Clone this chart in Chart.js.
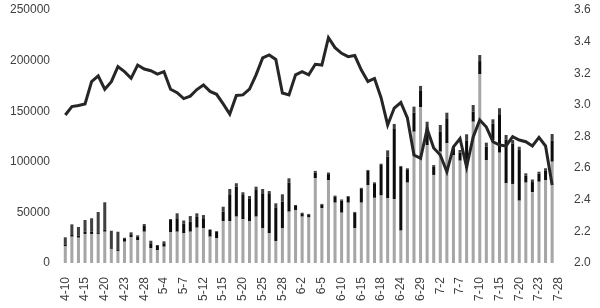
<!DOCTYPE html>
<html>
<head>
<meta charset="utf-8">
<script src="https://cdn.jsdelivr.net/npm/chart.js@4/dist/chart.umd.min.js"></script>
<style>
html,body{margin:0;padding:0;background:#fff;}
#c{display:block;}
</style>
</head>
<body>
<canvas id="c" width="600" height="308"></canvas>
<script>
const categories = ["4-10","4-13","4-14","4-15","4-16","4-17","4-20","4-21","4-22","4-23","4-24","4-27","4-28","4-29","4-30","5-4","5-5","5-6","5-7","5-8","5-11","5-12","5-13","5-14","5-15","5-18","5-19","5-20","5-21","5-22","5-25","5-26","5-27","5-28","5-29","6-1","6-2","6-3","6-4","6-5","6-8","6-9","6-10","6-11","6-12","6-15","6-16","6-17","6-18","6-19","6-22","6-24","6-25","6-26","6-29","6-30","7-1","7-2","7-3","7-6","7-7","7-8","7-9","7-10","7-13","7-14","7-15","7-16","7-17","7-20","7-21","7-22","7-23","7-24","7-27","7-28"];

const seriesGray = [16800,26000,25000,28700,28700,28700,30900,13500,11900,21000,25400,22700,30900,14500,12800,16100,30300,30900,29300,30900,34900,34200,26000,24400,41500,41500,45800,43200,41500,45800,34200,29300,21700,34200,50700,52400,45800,45000,84000,54300,82000,59600,49700,59600,34300,59600,77100,64400,66700,63900,63200,32000,79400,129700,154000,116600,87000,110000,118300,106700,101100,93600,139600,186500,101800,121500,109000,78800,78100,61600,79400,70000,80300,82000,100100,null];

const seriesBlack = [1600,2300,2000,2200,2200,1600,2300,1000,1600,3400,3000,3300,5700,5000,4000,3400,12200,13300,9400,9900,10600,10000,6600,6500,9200,25700,29600,24000,22400,26300,34700,39600,33300,26400,28700,3900,3300,3000,5200,3300,5800,6200,11800,5900,15400,13700,14200,14400,30100,41100,69900,63200,13200,19000,16000,18000,8000,20000,24000,6000,8000,27000,10000,13000,13000,16000,38000,43000,40000,50000,7000,10000,8000,9000,21000,null];

const seriesDark = [7000,9900,8600,11600,13300,20100,26800,17400,17400,500,1900,1400,1900,2500,1000,1900,1000,4900,3300,5600,3600,3200,600,700,4900,5900,3400,2700,2300,3300,4200,2200,4000,7300,4300,1000,600,500,1800,800,1600,800,1300,700,800,1000,700,900,1300,6300,4300,700,1000,5800,5000,5000,1800,6400,6200,2200,2600,6600,6500,6000,4100,4500,5900,4700,3400,3300,2200,2500,1900,2600,6400,null];

const seriesLine = [2.936,2.989,2.996,3.006,3.147,3.183,3.099,3.147,3.242,3.21,3.168,3.252,3.227,3.216,3.195,3.21,3.099,3.077,3.04,3.055,3.097,3.126,3.085,3.067,3.006,2.942,3.06,3.063,3.10,3.19,3.297,3.316,3.287,3.075,3.063,3.19,3.21,3.19,3.257,3.252,3.425,3.362,3.326,3.305,3.312,3.22,3.148,3.167,3.045,2.873,2.98,3.015,2.917,2.683,2.662,2.848,2.727,2.683,2.577,2.734,2.787,2.607,2.797,2.904,2.86,2.767,2.746,2.74,2.799,2.778,2.767,2.74,2.794,2.74,2.493,null];

const leftTicks = [0,50000,100000,150000,200000,250000];
const rightTicks = [2.0,2.2,2.4,2.6,2.8,3.0,3.2,3.4,3.6];

const FONT = {family: "'Liberation Sans', Arial, sans-serif", size: 12};
const TXT = '#404040';

const barCommon = {type:'bar', yAxisID:'y', stack:'s', categoryPercentage:1.0, barPercentage:0.46, order:1, borderWidth:0};

function noPad(s){ s.paddingTop = 0; s.paddingBottom = 0; s.paddingLeft = 0; s.paddingRight = 0; }

new Chart(document.getElementById('c'), {
  data: {
    labels: categories,
    datasets: [
      Object.assign({label:'A', data: seriesGray, backgroundColor:'#a6a6a6'}, barCommon),
      Object.assign({label:'B', data: seriesBlack, backgroundColor:'#0d0d0d'}, barCommon),
      Object.assign({label:'C', data: seriesDark, backgroundColor:'#404040'}, barCommon),
      {type:'line', label:'L', data: seriesLine, yAxisID:'y1', borderColor:'#262626', borderWidth:3, pointRadius:0, tension:0, fill:false, order:0, spanGaps:false}
    ]
  },
  options: {
    responsive:false,
    animation:false,
    devicePixelRatio:1,
    layout:{padding:{top:10,left:0,right:0,bottom:0}},
    plugins:{legend:{display:false}, tooltip:{enabled:false}},
    scales:{
      x:{
        stacked:true,
        offset:true,
        grid:{display:false, drawTicks:false},
        border:{display:false},
        ticks:{
          autoSkip:false, maxRotation:90, minRotation:90, padding:14,
          font:FONT, color:TXT,
          callback:function(v,i){ return i%3===0 ? categories[i] : null; }
        },
        afterFit:function(s){ s.height = 45; noPad(s); }
      },
      y:{
        position:'left', stacked:true, min:0, max:250000,
        grid:{display:false, drawTicks:false},
        border:{display:false},
        afterBuildTicks:function(s){ s.ticks = leftTicks.map(v=>({value:v})); },
        ticks:{padding:12, font:FONT, color:TXT, callback:v=>String(v)},
        afterFit:function(s){ s.width = 62; noPad(s); }
      },
      y1:{
        position:'right', min:2.0, max:3.6,
        grid:{display:false, drawTicks:false},
        border:{display:false},
        afterBuildTicks:function(s){ s.ticks = rightTicks.map(v=>({value:v})); },
        ticks:{padding:12, font:FONT, color:TXT, callback:v=>Number(v).toFixed(1)},
        afterFit:function(s){ s.width = 38; noPad(s); }
      }
    }
  }
});
</script>
</body>
</html>
